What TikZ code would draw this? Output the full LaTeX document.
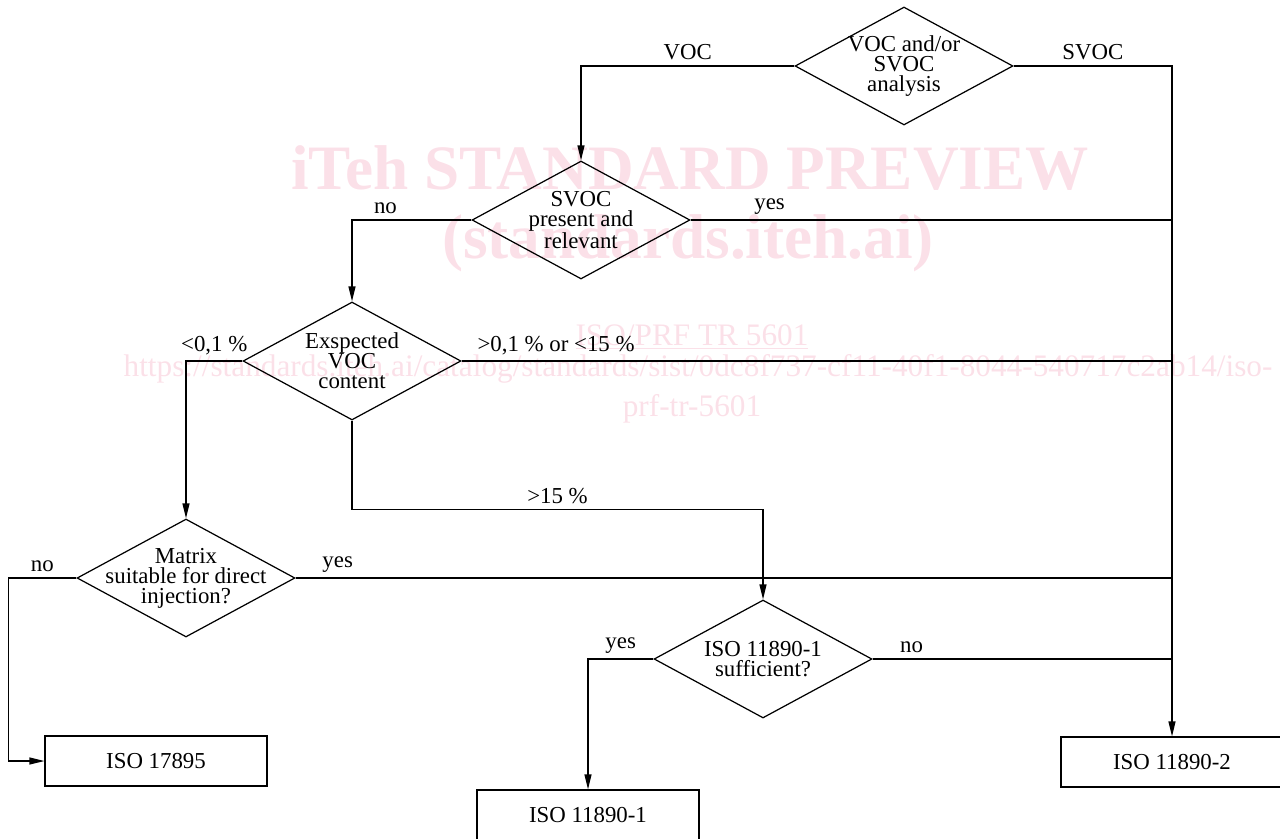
\documentclass[tikz,border=0pt]{standalone}
\usepackage{fontspec}
\setmainfont{Liberation Serif}
\usetikzlibrary{shapes.geometric,arrows.meta}
\definecolor{wmark}{RGB}{251,224,232}
\newcommand{\flowfont}{\fontsize{13}{11.4}\selectfont}
\tikzset{
	decision/.style={diamond, draw, line width=0.7pt, minimum width=4.36cm, minimum height=2.36cm, inner sep=0pt},
	dtext/.style={align=center, font=\flowfont, inner sep=0pt},
	result/.style={rectangle, draw, line width=0.7pt, minimum width=4.44cm, minimum height=1cm, font=\flowfont},
	line/.style={line width=0.7pt},
	arr/.style={line, -{Triangle[length=3mm,width=1.4mm]}},
	lbl/.style={above, font=\flowfont, inner sep=3pt},
	wmbold/.style={text=wmark, font=\fontsize{36}{40}\selectfont\bfseries, inner sep=0pt},
	wmtext/.style={text=wmark, font=\fontsize{17.8}{20}\selectfont, inner sep=0pt}
}
\begin{document}
\begin{tikzpicture}[x=0.02cm, y=-0.02cm]
		\useasboundingbox (0,0) rectangle (1280,838);
		\clip (0,0) rectangle (1280,838);
		% watermark
		\node[wmbold] (wm1) at (690,168) {iTeh STANDARD PREVIEW};
		\node[wmbold] (wm2) at (688,243) {(standards.iteh.ai)};
		\node[wmtext] (wm3) at (692,337) {\underline{ISO/PRF TR 5601}};
		\node[wmtext] (wm4) at (698,369) {https://standards.iteh.ai/catalog/standards/sist/0dc8f737-cf11-40f1-8044-540717c2ab14/iso-};
		\node[wmtext] (wm5) at (692,409) {prf-tr-5601};
		% decisions
		\node[decision, label={[dtext]center:{VOC and/or\\SVOC\\analysis}}] (d1) at (904,66) {};
		\node[decision, label={[dtext]center:{SVOC\\present and\\relevant}}] (d2) at (581,220) {};
		\node[decision, label={[dtext]center:{Exspected\\VOC\\content}}] (d3) at (352,361) {};
		\node[decision, label={[dtext]center:{Matrix\\suitable for direct\\injection?}}] (d4) at (186,578) {};
		\node[decision, label={[dtext]center:{ISO 11890-1\\sufficient?}}] (d5) at (763,659) {};
		% results
		\node[result] (iso17) at (156,761) {ISO 17895};
		\node[result] (iso1) at (588,815) {ISO 11890-1};
		\node[result] (iso2) at (1172,762) {ISO 11890-2};
		% connectors
		\draw[arr] (d1.west) -| node[lbl, pos=0.25] {VOC} (d2.north);
		\draw[arr] (d1.east) -| node[lbl, pos=0.25] {SVOC} (iso2.north);
		\draw[arr] (d2.west) -| node[lbl, pos=0.36] {no} (d3.north);
		\draw[line] (d2.east) -- node[lbl, pos=0.164] {yes} (d2.east -| iso2.north);
		\draw[arr] (d3.west) -| node[lbl, pos=0.25] {<0,1 \%} (d4.north);
		\draw[line] (d3.east) -- node[lbl, pos=0.133] {>0,1 \% or <15 \%} (d3.east -| iso2.north);
		\draw[arr] (d3.south) -- ++(0,89) -| node[lbl, pos=0.25] {>15 \%} (d5.north);
		\draw[arr] (d4.west) -- node[lbl] {no} ++(-68,0) |- (iso17.west);
		\draw[line] (d4.east) -- node[lbl, pos=0.048] {yes} (d4.east -| iso2.north);
		\draw[arr] (d5.west) -| node[lbl, pos=0.25] {yes} (iso1.north);
		\draw[line] (d5.east) -- node[lbl, pos=0.13] {no} (d5.east -| iso2.north);
	\end{tikzpicture}
\end{document}
